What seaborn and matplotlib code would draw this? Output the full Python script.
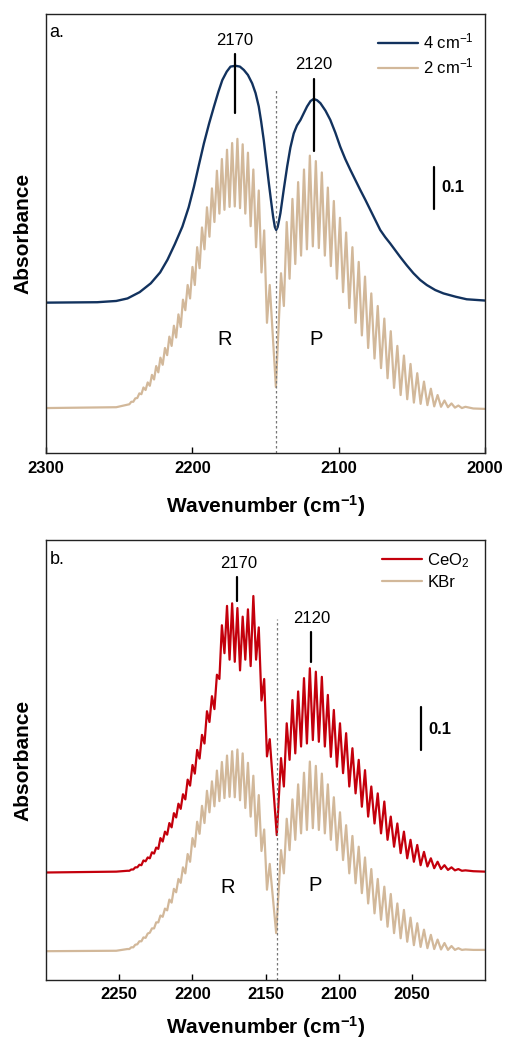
import numpy as np
import pandas as pd
import matplotlib
matplotlib.use("Agg")
import matplotlib.pyplot as plt
import seaborn as sns

# ---------------- data ----------------
# CO rotational line positions (cm-1)
R_lines = [2147.1, 2150.9, 2154.6, 2158.3, 2162.0, 2165.6, 2169.2, 2172.8, 2176.3, 2179.8,
           2183.2, 2186.6, 2190.0, 2193.4, 2196.7, 2199.9, 2203.2, 2206.4, 2209.5, 2212.6,
           2215.7, 2218.7, 2221.8, 2224.7, 2227.6, 2230.5, 2233.4, 2236.2, 2239.0, 2241.7, 2244.4]
P_lines = [2139.4, 2135.5, 2131.6, 2127.7, 2123.7, 2119.7, 2115.6, 2111.5, 2107.4, 2103.3,
           2099.1, 2094.9, 2090.6, 2086.3, 2082.0, 2077.7, 2073.3, 2068.8, 2064.4, 2059.9,
           2055.4, 2050.9, 2046.3, 2041.7, 2037.0, 2032.4, 2027.7, 2022.9, 2018.2, 2013.4]

# panel a, 2 cm-1 spectrum (offset absorbance)
a2_R_top = [0.40, 0.53, 0.625, 0.675, 0.715, 0.735, 0.748, 0.738, 0.722, 0.70, 0.672, 0.63,
            0.585, 0.537, 0.49, 0.443, 0.40, 0.365, 0.33, 0.303, 0.277, 0.25, 0.227, 0.207,
            0.186, 0.168, 0.156, 0.142, 0.13, 0.122, 0.115]
a2_R_trough = [0.31, 0.43, 0.49, 0.54, 0.57, 0.583, 0.587, 0.586, 0.579, 0.57, 0.55, 0.515,
               0.485, 0.44, 0.40, 0.368, 0.34, 0.30, 0.275, 0.255, 0.233, 0.21, 0.192, 0.175,
               0.16, 0.15, 0.14, 0.131, 0.122, 0.116]
a2_P_top = [0.428, 0.55, 0.605, 0.645, 0.675, 0.708, 0.695, 0.668, 0.632, 0.60, 0.56, 0.525,
            0.49, 0.455, 0.42, 0.38, 0.35, 0.32, 0.29, 0.255, 0.232, 0.212, 0.19, 0.17, 0.153,
            0.138, 0.125, 0.118, 0.113, 0.110]
a2_P_trough = [0.35, 0.415, 0.45, 0.47, 0.485, 0.492, 0.488, 0.47, 0.445, 0.415, 0.383, 0.345,
               0.31, 0.28, 0.25, 0.225, 0.202, 0.178, 0.155, 0.138, 0.128, 0.12, 0.117, 0.114,
               0.111, 0.110, 0.109, 0.108, 0.107]
a2_center = (2142.9, 0.157)
a2_left = [(2300, 0.107), (2252, 0.109)]
a2_right = [(2008, 0.106), (2000, 0.105)]

# panel a, 4 cm-1 spectrum
a4_wn = [2300, 2265, 2252, 2244.3, 2236, 2228.4, 2222, 2217, 2212, 2206.8, 2202.5, 2198.9,
         2195.5, 2192.1, 2188.5, 2185.2, 2182.2, 2179.5, 2176.5, 2173.9, 2170.5, 2167.5,
         2164.8, 2162, 2159.1, 2156.8, 2154.6, 2153, 2151.2, 2149.5, 2147.7, 2146.2, 2144.8,
         2143.6, 2142.7, 2141.7, 2140.8, 2139.8, 2137.5, 2135.2, 2133, 2130.7, 2128.5, 2126.1,
         2124, 2121.6, 2119.2, 2117.1, 2114.8, 2112.5, 2109, 2105.7, 2102.3, 2098.9, 2095.5,
         2092.0, 2088.6, 2085.2, 2081.8, 2078.4, 2075, 2071.6, 2068.2, 2064.8, 2061.4, 2058,
         2053.5, 2048.9, 2044.3, 2039.8, 2034, 2028.4, 2020, 2012.5, 2000]
a4_abs = [0.358, 0.359, 0.362, 0.368, 0.383, 0.404, 0.43, 0.46, 0.497, 0.539, 0.585, 0.634,
          0.686, 0.737, 0.785, 0.825, 0.86, 0.888, 0.908, 0.92, 0.922, 0.92, 0.912, 0.9, 0.88,
          0.857, 0.825, 0.79, 0.745, 0.695, 0.642, 0.6, 0.563, 0.538, 0.531, 0.538, 0.553,
          0.571, 0.628, 0.682, 0.727, 0.761, 0.78, 0.793, 0.808, 0.825, 0.838, 0.843, 0.84,
          0.833, 0.815, 0.793, 0.763, 0.729, 0.70, 0.674, 0.65, 0.626, 0.603, 0.579, 0.555,
          0.531, 0.514, 0.499, 0.483, 0.467, 0.447, 0.428, 0.412, 0.40, 0.388, 0.38, 0.372,
          0.366, 0.363]

# panel b, CeO2
ce_R_top = [0.56, 0.70, 0.82, 0.893, 0.862, 0.845, 0.865, 0.876, 0.87, 0.825, 0.71, 0.66,
            0.625, 0.57, 0.535, 0.50, 0.466, 0.432, 0.41, 0.388, 0.365, 0.345, 0.33, 0.308,
            0.297, 0.285, 0.278, 0.268, 0.262, 0.257, 0.254]
ce_R_trough = [0.52, 0.65, 0.745, 0.73, 0.745, 0.72, 0.74, 0.745, 0.76, 0.70, 0.63, 0.60,
               0.55, 0.515, 0.48, 0.452, 0.42, 0.398, 0.378, 0.355, 0.338, 0.322, 0.305,
               0.294, 0.283, 0.276, 0.267, 0.262, 0.257, 0.254]
ce_P_top = [0.516, 0.597, 0.651, 0.671, 0.702, 0.725, 0.717, 0.705, 0.663, 0.628, 0.597,
            0.574, 0.539, 0.512, 0.488, 0.45, 0.434, 0.415, 0.38, 0.364, 0.345, 0.326, 0.314,
            0.298, 0.283, 0.275, 0.267, 0.262, 0.258, 0.255]
ce_P_trough = [0.45, 0.512, 0.527, 0.543, 0.55, 0.558, 0.554, 0.543, 0.519, 0.496, 0.481,
               0.45, 0.434, 0.403, 0.38, 0.364, 0.341, 0.326, 0.31, 0.295, 0.283, 0.275,
               0.267, 0.264, 0.26, 0.258, 0.256, 0.255, 0.254]
ce_center = (2142.3, 0.337)
ce_left = [(2300, 0.250), (2252, 0.252)]
ce_right = [(2008, 0.253), (2000, 0.252)]

# panel b, KBr
kb_R_top = [0.27, 0.35, 0.43, 0.475, 0.505, 0.527, 0.536, 0.532, 0.522, 0.507, 0.487, 0.462,
            0.44, 0.405, 0.368, 0.33, 0.293, 0.262, 0.235, 0.212, 0.187, 0.166, 0.15, 0.134,
            0.12, 0.108, 0.099, 0.09, 0.082, 0.076, 0.072]
kb_R_trough = [0.21, 0.30, 0.335, 0.38, 0.40, 0.418, 0.425, 0.426, 0.423, 0.416, 0.404, 0.39,
               0.365, 0.34, 0.31, 0.275, 0.248, 0.226, 0.204, 0.18, 0.162, 0.147, 0.134,
               0.12, 0.11, 0.098, 0.09, 0.083, 0.076, 0.072]
kb_P_top = [0.302, 0.375, 0.42, 0.455, 0.482, 0.508, 0.498, 0.48, 0.455, 0.425, 0.39, 0.36,
            0.335, 0.31, 0.285, 0.258, 0.235, 0.217, 0.2, 0.178, 0.163, 0.145, 0.132, 0.117,
            0.105, 0.094, 0.086, 0.079, 0.074, 0.071]
kb_P_trough = [0.248, 0.302, 0.326, 0.341, 0.349, 0.353, 0.349, 0.341, 0.326, 0.302, 0.279,
               0.248, 0.225, 0.202, 0.178, 0.155, 0.14, 0.124, 0.109, 0.097, 0.089, 0.081,
               0.077, 0.074, 0.072, 0.071, 0.07, 0.07, 0.07]
kb_center = (2142.7, 0.109)
kb_left = [(2300, 0.067), (2252, 0.068)]
kb_right = [(2008, 0.070), (2000, 0.070)]

xticks_a = [2300, 2200, 2100, 2000]
xticks_b = [2250, 2200, 2150, 2100, 2050]

# ---------------- helpers ----------------
def assemble(R_top, R_tr, center, P_top, P_tr, left, right):
    """Join read line maxima and inter-line minima into one spectrum trace."""
    xs, ys = [], []
    for x, y in left:
        xs.append(x); ys.append(y)
    n = len(R_lines)
    for j in range(n - 1, -1, -1):
        xs.append(R_lines[j]); ys.append(R_top[j])
        if j > 0:
            xs.append(0.5 * (R_lines[j] + R_lines[j - 1])); ys.append(R_tr[j - 1])
    xs.append(center[0]); ys.append(center[1])
    m = len(P_lines)
    for j in range(m):
        xs.append(P_lines[j]); ys.append(P_top[j])
        if j < m - 1:
            xs.append(0.5 * (P_lines[j] + P_lines[j + 1])); ys.append(P_tr[j])
    for x, y in right:
        xs.append(x); ys.append(y)
    return pd.DataFrame({"wn": xs, "abs": ys})

# ---------------- style ----------------
sns.set_style("white")
plt.rcParams["font.family"] = ["Liberation Sans", "DejaVu Sans"]
plt.rcParams["mathtext.fontset"] = "custom"
plt.rcParams["mathtext.rm"] = "Liberation Sans"
plt.rcParams["mathtext.bf"] = "Liberation Sans:bold"
plt.rcParams["mathtext.default"] = "regular"
plt.rcParams["text.color"] = "black"
plt.rcParams["axes.labelcolor"] = "black"
plt.rcParams["xtick.color"] = "black"
plt.rcParams["lines.solid_joinstyle"] = "round"

BLUE = "#12325e"
TAN = "#d2b89a"
RED = "#c4000c"

fig = plt.figure(figsize=(5.05, 10.42), dpi=100)
ax1 = fig.add_axes([46 / 505, 1 - 453 / 1042, 439 / 505, 439 / 1042])
ax2 = fig.add_axes([46 / 505, 1 - 980 / 1042, 439 / 505, 440 / 1042])

df_a4 = pd.DataFrame({"wn": a4_wn, "abs": a4_abs})
df_a2 = assemble(a2_R_top, a2_R_trough, a2_center, a2_P_top, a2_P_trough, a2_left, a2_right)
df_ce = assemble(ce_R_top, ce_R_trough, ce_center, ce_P_top, ce_P_trough, ce_left, ce_right)
df_kb = assemble(kb_R_top, kb_R_trough, kb_center, kb_P_top, kb_P_trough, kb_left, kb_right)

sns.lineplot(data=df_a4, x="wn", y="abs", ax=ax1, color=BLUE, lw=1.7,
             estimator=None, label="4 cm$^{-1}$")
sns.lineplot(data=df_a2, x="wn", y="abs", ax=ax1, color=TAN, lw=1.6,
             estimator=None, label="2 cm$^{-1}$")
sns.lineplot(data=df_ce, x="wn", y="abs", ax=ax2, color=RED, lw=1.6,
             estimator=None, label="CeO$_2$")
sns.lineplot(data=df_kb, x="wn", y="abs", ax=ax2, color=TAN, lw=1.6,
             estimator=None, label="KBr")

def style_axis(ax, ticks, ytop, pad):
    ax.set_xlim(2300, 2000)
    ax.set_ylim(0, ytop)
    ax.set_xticks(ticks)
    ax.set_xticklabels([str(t) for t in ticks], fontweight="bold", fontsize=12)
    ax.set_yticks([])
    ax.tick_params(axis="x", direction="in", length=4.5, width=1, pad=pad,
                   bottom=True, top=False, colors="black")
    for s in ax.spines.values():
        s.set_visible(True)
        s.set_color("#222222")
        s.set_linewidth(1.0)
    ax.set_xlabel("Wavenumber (cm$\\mathbf{^{-1}}$)", fontsize=15, fontweight="bold")
    ax.set_ylabel("Absorbance", fontsize=15, fontweight="bold")
    ax.yaxis.set_label_coords(-0.03, 0.5)

style_axis(ax1, xticks_a, 439 / 420, 6)
style_axis(ax2, xticks_b, 440 / 430, 5)
ax1.xaxis.set_label_coords(0.5, -0.092)
ax2.xaxis.set_label_coords(0.5, -0.078)

# legends
ax1.legend(loc="upper left", bbox_to_anchor=(0.757, 0.959), frameon=False, fontsize=12,
           handlelength=2.4, handletextpad=0.3, borderpad=0, borderaxespad=0,
           labelspacing=0.3)
ax2.legend(loc="upper left", bbox_to_anchor=(0.766, 0.975), frameon=False, fontsize=12,
           handlelength=2.4, handletextpad=0.3, borderpad=0, borderaxespad=0,
           labelspacing=0.3)

# panel letters
ax1.text(0.008, 0.948, "a.", transform=ax1.transAxes, fontsize=13, va="baseline")
ax2.text(0.008, 0.945, "b.", transform=ax2.transAxes, fontsize=13, va="baseline")

# dashed centre lines
ax1.plot([2142.7, 2142.7], [0, 0.868], ls=(0, (2, 2)), lw=0.9, color="#777777")
ax2.plot([2142.0, 2142.0], [0, 0.839], ls=(0, (2, 2)), lw=0.9, color="#777777")

# peak markers
ax1.plot([2170.9, 2170.9], [0.809, 0.949], color="black", lw=1.6)
ax1.text(2170.9, 0.965, "2170", ha="center", va="bottom", fontsize=12)
ax1.plot([2117.1, 2117.1], [0.719, 0.89], color="black", lw=1.6)
ax1.text(2117.1, 0.908, "2120", ha="center", va="bottom", fontsize=12)

ax2.plot([2169.3, 2169.3], [0.882, 0.937], color="black", lw=1.6)
ax2.text(2168.5, 0.952, "2170", ha="center", va="bottom", fontsize=12)
ax2.plot([2118.6, 2118.6], [0.74, 0.81], color="black", lw=1.6)
ax2.text(2118.2, 0.823, "2120", ha="center", va="bottom", fontsize=12)

# branch labels
ax1.text(2177.7, 0.271, "R", ha="center", va="center", fontsize=14.5)
ax1.text(2115.2, 0.271, "P", ha="center", va="center", fontsize=14.5)
ax2.text(2176.1, 0.215, "R", ha="center", va="center", fontsize=14.5)
ax2.text(2115.9, 0.219, "P", ha="center", va="center", fontsize=14.5)

# scale bars
ax1.plot([2034.8, 2034.8], [0.581, 0.681], color="black", lw=1.6)
ax1.text(2030.0, 0.631, "0.1", ha="left", va="center", fontsize=12, fontweight="bold")
ax2.plot([2043.9, 2043.9], [0.535, 0.634], color="black", lw=1.6)
ax2.text(2039.0, 0.583, "0.1", ha="left", va="center", fontsize=12, fontweight="bold")

fig.savefig("out.png", dpi=100)
